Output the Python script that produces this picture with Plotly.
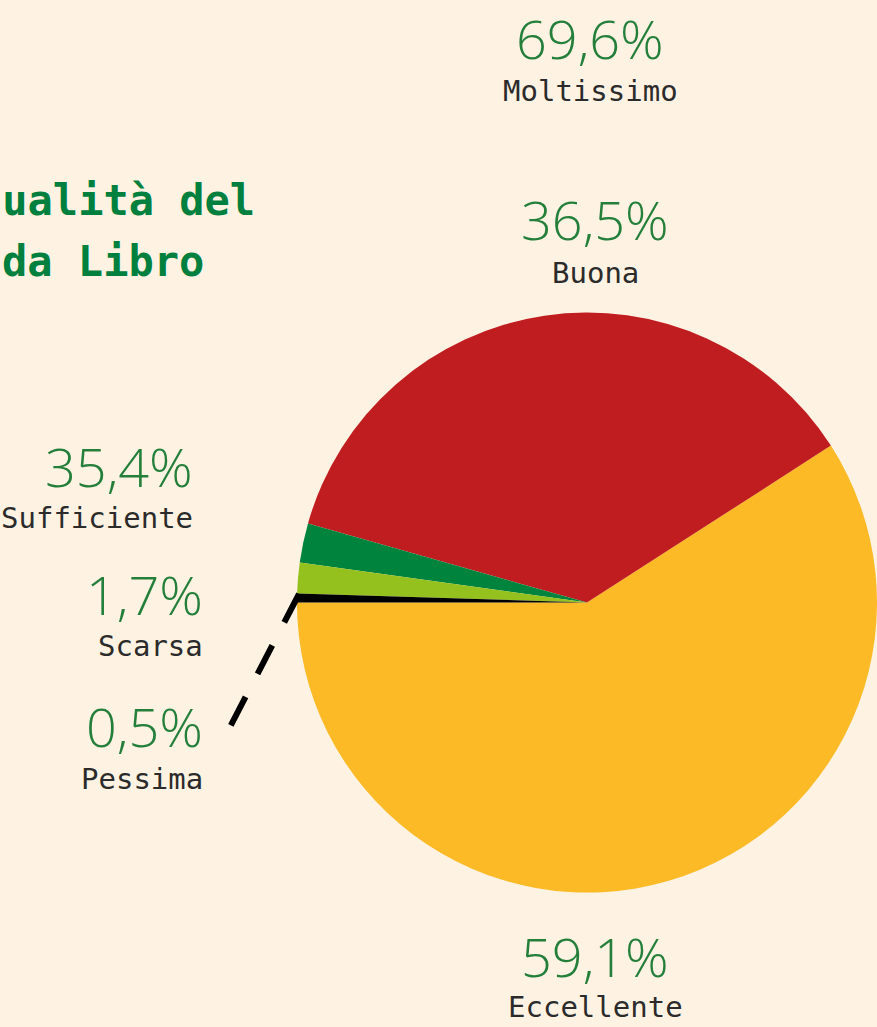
import plotly.graph_objects as go

# ---- data ----
categories = ["Eccellente", "Buona", "Sufficiente", "Scarsa", "Pessima"]
values = [59.1, 36.5, 2.2, 1.7, 0.5]
pct_labels = ["59,1%", "36,5%", "35,4%", "1,7%", "0,5%"]
extra_category = "Moltissimo"
extra_label = "69,6%"
colors = ["#FBBA26", "#C01D20", "#00843D", "#95C11F", "#000000"]

BG = "#FEF3E2"
W, H = 877, 1027
GREEN_TXT = "#247F3B"
DARK_TXT = "#2B2B2B"


def px(x):
    return x / W


def py(y):
    return 1 - y / H


# first slice ends (counterclockwise) at 9 o'clock
start_rot = 270 - values[0] / sum(values) * 360

fig = go.Figure()
fig.add_trace(go.Pie(
    labels=categories,
    values=values,
    sort=False,
    direction="counterclockwise",
    rotation=start_rot,
    marker=dict(colors=colors, line=dict(width=0)),
    textinfo="none",
    hoverinfo="label+percent",
    showlegend=False,
    domain=dict(x=[0.3386, 1.0], y=[0.10, 0.7266]),
))

# label positions (pixel anchors) for each category
pos = {
    "Moltissimo": (590, 38, 91, "center"),
    "Buona": (595, 219, 273, "center"),
    "Sufficiente": (195, 466, 518, "right"),
    "Scarsa": (205, 594, 646, "right"),
    "Pessima": (205, 726, 779, "right"),
    "Eccellente": (595, 956, 1007, "center"),
}

ann = []
all_cats = [extra_category] + categories
all_pcts = [extra_label] + pct_labels
for cat, pct in zip(all_cats, all_pcts):
    x, yp, yl, anchor = pos[cat]
    ann.append(dict(x=px(x), y=py(yp), xref="paper", yref="paper", text=pct,
                    showarrow=False, xanchor=anchor, yanchor="middle",
                    font=dict(family="Open Sans", size=54, color=GREEN_TXT, weight=300)))
    ann.append(dict(x=px(x), y=py(yl), xref="paper", yref="paper", text=cat,
                    showarrow=False, xanchor=anchor, yanchor="middle",
                    font=dict(family="DejaVu Sans Mono", size=29, color=DARK_TXT)))

# title (partially outside the page on the left)
ann.append(dict(x=px(257), y=py(200), xref="paper", yref="paper", text="qualità del",
                showarrow=False, xanchor="right", yanchor="middle",
                font=dict(family="DejaVu Sans Mono", size=42, color="#00803E", weight="bold")))
ann.append(dict(x=px(0), y=py(261), xref="paper", yref="paper", text="da Libro",
                showarrow=False, xanchor="left", yanchor="middle",
                font=dict(family="DejaVu Sans Mono", size=42, color="#00803E", weight="bold")))

shapes = [dict(type="line", xref="paper", yref="paper",
               x0=px(299), y0=py(594), x1=px(230), y1=py(727),
               line=dict(color="#000000", width=6, dash="32px,26px"))]

fig.update_layout(
    width=W, height=H,
    margin=dict(l=0, r=0, t=0, b=0),
    paper_bgcolor=BG, plot_bgcolor=BG,
    annotations=ann, shapes=shapes,
)

fig.write_html("out.html")
